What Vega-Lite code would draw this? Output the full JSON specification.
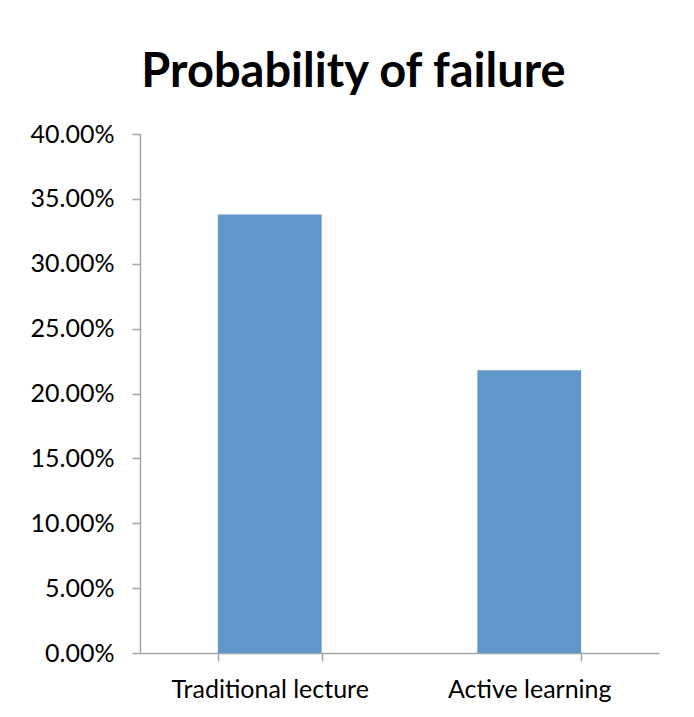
{
  "$schema": "https://vega.github.io/schema/vega-lite/v6.json",
  "width": 519,
  "height": 519,
  "autosize": {"type": "none"},
  "padding": {"left": 140, "top": 134, "right": 35, "bottom": 64},
  "background": "white",
  "title": {
    "text": "Probability of failure",
    "font": "Lato",
    "fontSize": 47,
    "fontWeight": "bold",
    "color": "#000000",
    "anchor": "middle",
    "dx": -46,
    "baseline": "alphabetic",
    "offset": -12
  },
  "data": {
    "values": [
      {"method": "Traditional lecture", "failure": 0.338},
      {"method": "Active learning", "failure": 0.218}
    ]
  },
  "mark": {"type": "bar", "color": "#6096C9"},
  "encoding": {
    "x": {
      "field": "method",
      "type": "nominal",
      "sort": null,
      "title": null,
      "scale": {"paddingInner": 0.6, "paddingOuter": 0.3},
      "axis": {
        "labelAngle": 0,
        "labelLimit": 0,
        "tickBand": "extent",
        "tickSize": 8,
        "tickColor": "#a6a6a6",
        "tickWidth": 1.5,
        "domainColor": "#a6a6a6",
        "domainWidth": 1.5,
        "labelFont": "Lato",
        "labelFontSize": 25,
        "labelColor": "#000000",
        "labelPadding": 16
      }
    },
    "y": {
      "field": "failure",
      "type": "quantitative",
      "title": null,
      "scale": {"domain": [0, 0.4], "nice": false},
      "axis": {
        "values": [0, 0.05, 0.1, 0.15, 0.2, 0.25, 0.3, 0.35, 0.4],
        "format": ".2%",
        "grid": false,
        "tickSize": 8,
        "tickColor": "#a6a6a6",
        "tickWidth": 1.5,
        "domainColor": "#a6a6a6",
        "domainWidth": 1.5,
        "labelFont": "Lato",
        "labelFontSize": 25,
        "labelColor": "#000000",
        "labelPadding": 18
      }
    }
  },
  "config": {"view": {"stroke": null}}
}
